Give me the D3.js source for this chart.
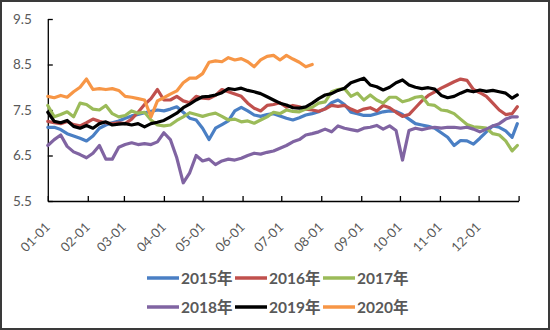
<!DOCTYPE html>
<html><head><meta charset="utf-8">
<script src="https://cdn.jsdelivr.net/npm/d3@7"></script>
<style>
html,body{margin:0;padding:0;background:#fff;}
svg{display:block;}
text{font-family:Lato,"Noto Sans CJK SC",sans-serif;fill:#595959;}
</style></head>
<body>
<svg id="c" width="550" height="330"></svg>
<script>
// ---- data ----
const dates = [
 "01-01","01-06","01-11","01-16","01-21","01-26","01-31",
 "02-05","02-10","02-15","02-20","02-25",
 "03-02","03-07","03-12","03-17","03-22","03-27",
 "04-01","04-06","04-11","04-16","04-21","04-26",
 "05-01","05-06","05-11","05-16","05-21","05-26","05-31",
 "06-05","06-10","06-15","06-20","06-25","06-30",
 "07-05","07-10","07-15","07-20","07-25","07-30",
 "08-04","08-09","08-14","08-19","08-24","08-29",
 "09-03","09-08","09-13","09-18","09-23","09-28",
 "10-03","10-08","10-13","10-18","10-23","10-28",
 "11-02","11-07","11-12","11-17","11-22","11-27",
 "12-02","12-07","12-12","12-17","12-22","12-27","12-31"
];
const seriesNames = ["2015年","2016年","2017年","2018年","2019年","2020年"];
const y2015 = [7.12,7.12,7.07,6.98,6.93,6.88,6.82, 6.93,7.1,7.17,7.22,7.26, 7.32,7.37,7.4,7.44,7.47,7.5,
 7.48,7.52,7.57,7.45,7.32,7.28, 7.1,6.85,7.1,7.18,7.26,7.48,7.56, 7.48,7.39,7.36,7.4,7.42,7.37,
 7.32,7.28,7.33,7.39,7.42,7.46, 7.53,7.66,7.72,7.62,7.45,7.42, 7.38,7.38,7.42,7.46,7.48,7.47,
 7.4,7.3,7.2,7.17,7.14,7.1, 7.0,6.9,6.72,6.83,6.82,6.75, 6.88,7.02,7.15,7.12,7.04,6.9,7.2];
const y2016 = [7.25,7.22,7.2,7.25,7.18,7.15,7.22, 7.3,7.25,7.22,7.2,7.22, 7.2,7.3,7.45,7.62,7.75,7.95,
 7.72,7.72,7.8,7.7,7.66,7.8, 7.76,7.75,7.82,7.95,7.9,7.85,7.8, 7.65,7.54,7.48,7.6,7.62,7.66,
 7.56,7.6,7.57,7.52,7.5,7.47, 7.52,7.6,7.58,7.6,7.52,7.46, 7.52,7.55,7.48,7.6,7.55,7.45,
 7.36,7.4,7.55,7.7,7.82,7.9, 7.98,8.05,8.12,8.18,8.15,7.95, 7.88,7.8,7.65,7.5,7.4,7.42,7.57];
const y2017 = [7.6,7.35,7.4,7.46,7.35,7.65,7.62, 7.52,7.5,7.6,7.42,7.35, 7.38,7.48,7.43,7.45,7.28,7.17,
 7.15,7.17,7.27,7.35,7.44,7.4, 7.36,7.4,7.43,7.36,7.28,7.3,7.24, 7.26,7.21,7.28,7.35,7.45,7.42,
 7.5,7.47,7.46,7.52,7.56,7.65, 7.68,7.9,7.95,7.97,7.8,7.87, 7.72,7.83,7.72,7.65,7.78,7.78,
 7.68,7.72,7.78,7.8,7.62,7.6, 7.5,7.48,7.42,7.3,7.18,7.13, 7.12,7.1,6.98,6.95,6.82,6.6,6.72];
const y2018 = [6.72,6.85,6.95,6.7,6.58,6.52,6.45, 6.55,6.72,6.42,6.42,6.68, 6.74,6.78,6.74,6.76,6.74,6.8,
 7.0,6.85,6.45,5.9,6.12,6.5, 6.38,6.42,6.3,6.38,6.42,6.4,6.44, 6.5,6.55,6.53,6.57,6.6,6.66,
 6.72,6.8,6.85,6.95,6.98,7.02, 7.08,7.02,7.15,7.1,7.07,7.04, 7.1,7.12,7.16,7.08,7.15,7.05,
 6.4,7.05,7.1,7.07,7.1,7.12, 7.1,7.12,7.12,7.1,7.12,7.08, 7.02,7.08,7.15,7.2,7.3,7.35,7.35];
const y2019 = [7.45,7.25,7.22,7.27,7.14,7.1,7.16, 7.1,7.2,7.24,7.17,7.19, 7.2,7.17,7.2,7.13,7.2,7.23,
 7.27,7.35,7.43,7.55,7.63,7.72, 7.79,7.8,7.83,7.88,7.97,7.95,7.98, 7.93,7.9,7.86,7.79,7.72,7.65,
 7.61,7.55,7.54,7.57,7.65,7.75, 7.83,7.86,7.93,7.98,8.1,8.15, 8.2,8.05,8.01,7.94,8.0,8.1,
 8.16,8.05,8.0,7.97,7.99,7.96, 7.82,7.77,7.8,7.87,7.93,7.9, 7.94,7.91,7.93,7.9,7.87,7.76,7.83];
const y2020 = [7.8,7.77,7.82,7.78,7.9,8.0,8.18, 7.95,7.97,7.95,7.97,7.93, 7.8,7.78,7.75,7.72,7.35,7.7,
 7.77,7.85,7.92,8.1,8.2,8.2, 8.3,8.55,8.58,8.56,8.65,8.6,8.63, 8.56,8.45,8.6,8.68,8.7,8.6,
 8.7,8.62,8.55,8.45,8.5];
const yTicks = [5.5,6.5,7.5,8.5,9.5];
const xTickLabels = ["01-01","02-01","03-01","04-01","05-01","06-01","07-01","08-01","09-01","10-01","11-01","12-01"];
const colors = ["#4A7FC4","#C0504D","#9BBB59","#8064A2","#000000","#F79646"];

// ---- drawing ----
const svg = d3.select("#c");
const parse = s => d3.timeParse("%Y-%m-%d")("2019-" + s);
const x = d3.scaleTime().domain([new Date(2019,0,1), new Date(2020,0,1)]).range([47.8, 518.6]);
const y = d3.scaleLinear().domain([5.5, 9.5]).range([201, 19]);

svg.append("rect").attr("x",1).attr("y",1).attr("width",548).attr("height",328)
  .attr("fill","#fff").attr("stroke","#3a3a3a").attr("stroke-width",2);

// y axis
const yAxis = svg.append("g").attr("transform","translate(47.8,0)")
  .call(d3.axisLeft(y).tickValues(yTicks).tickFormat(d3.format(".1f")).tickSizeInner(-5).tickSizeOuter(0).tickPadding(16));
yAxis.select(".domain").attr("stroke","#000").attr("stroke-width",1.3);
yAxis.selectAll(".tick line").attr("stroke","#000").attr("stroke-width",1.3);
yAxis.selectAll("text").attr("font-size",13.5).attr("fill","#595959").style("font-family","Lato,sans-serif");

// x axis
const monthTicks = xTickLabels.map(s => parse(s)).concat([new Date(2020,0,1)]);
const xAxis = svg.append("g").attr("transform","translate(0,201)")
  .call(d3.axisBottom(x).tickValues(monthTicks).tickSizeInner(-5).tickSizeOuter(0).tickFormat(""));
xAxis.select(".domain").attr("stroke","#000").attr("stroke-width",1.3);
xAxis.selectAll(".tick line").attr("stroke","#000").attr("stroke-width",1.3);
svg.append("g").selectAll("text").data(xTickLabels).join("text")
  .attr("transform", d => `translate(${x(parse(d))+3},228) rotate(-45)`)
  .attr("text-anchor","end").attr("font-size",13).text(d => d);

// lines
const all = [y2015,y2016,y2017,y2018,y2019,y2020];
const line = d3.line().x(d => x(d[0])).y(d => y(d[1]));
all.forEach((vals,i) => {
  const pts = vals.map((v,j) => [parse(dates[j]), v]);
  svg.append("path").datum(pts).attr("d", line).attr("fill","none")
    .attr("stroke", colors[i]).attr("stroke-width",3.2)
    .attr("stroke-linejoin","round").attr("stroke-linecap","round");
});

// legend
const lg = svg.append("g");
seriesNames.forEach((n,i) => {
  const cx = 147 + (i%3)*88, cy = 278 + Math.floor(i/3)*29;
  lg.append("line").attr("x1",cx).attr("x2",cx+32).attr("y1",cy).attr("y2",cy)
    .attr("stroke",colors[i]).attr("stroke-width",3.5);
  lg.append("text").attr("x",cx+34).attr("y",cy).attr("dy","0.36em")
    .attr("font-size",15.5).attr("font-weight","bold").text(n);
});
</script>
</body></html>
